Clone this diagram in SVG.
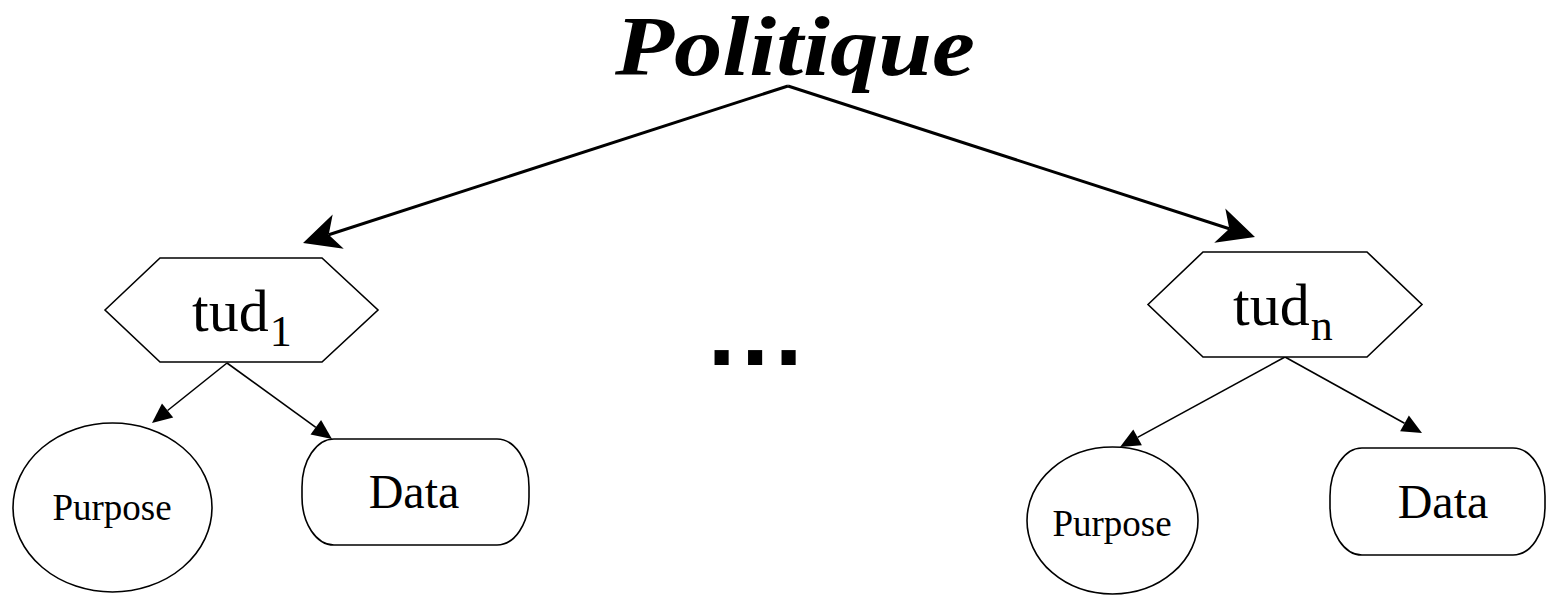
<svg xmlns="http://www.w3.org/2000/svg" width="1547" height="595" viewBox="0 0 1547 595">
  <style>
    .shape { fill: #ffffff; stroke: #000000; stroke-width: 1.6; }
    .lbl { font-family: "Liberation Serif", "Times New Roman", serif; fill: #000000; }
    .big { stroke: #000000; stroke-width: 3; fill: none; }
    .small { stroke: #000000; stroke-width: 1.6; fill: none; }
  </style>
  <defs>
    <marker id="bigHead" markerUnits="userSpaceOnUse" markerWidth="50" markerHeight="50" refX="0" refY="0" orient="auto" overflow="visible">
      <path d="M27,0 L-10,-18 L0,0 L-10,18 Z" fill="#000000"/>
    </marker>
    <marker id="smallHead" markerUnits="userSpaceOnUse" markerWidth="30" markerHeight="30" refX="0" refY="0" orient="auto" overflow="visible">
      <path d="M20,0 L0,-9 L0,9 Z" fill="#000000"/>
    </marker>
  </defs>
  <rect width="1547" height="595" fill="#ffffff"/>

  <g id="title">
    <text class="lbl" x="795" y="75" font-size="84" font-weight="bold" font-style="italic" text-anchor="middle" textLength="360" lengthAdjust="spacingAndGlyphs">Politique</text>
  </g>

  <g id="connectors">
    <line class="big" x1="788" y1="86" x2="328.7" y2="234.7" marker-end="url(#bigHead)"/>
    <line class="big" x1="788" y1="86" x2="1229.3" y2="228.7" marker-end="url(#bigHead)"/>
    <line class="small" x1="227" y1="363" x2="167.6" y2="410.5" marker-end="url(#smallHead)"/>
    <line class="small" x1="227" y1="363" x2="315.8" y2="427.3" marker-end="url(#smallHead)"/>
    <line class="small" x1="1285" y1="357" x2="1137.6" y2="437.4" marker-end="url(#smallHead)"/>
    <line class="small" x1="1285" y1="357" x2="1404.5" y2="423.3" marker-end="url(#smallHead)"/>
  </g>

  <g id="tud1">
    <polygon class="shape" points="105,310 160,258 322,258 378,310 322,362 160,362"/>
    <text class="lbl" x="192" y="331" font-size="60">tud<tspan font-size="44" dx="1" dy="15">1</tspan></text>
  </g>

  <g id="purpose1">
    <ellipse class="shape" cx="112.5" cy="507.5" rx="99.5" ry="84.5"/>
    <text class="lbl" x="112" y="520" font-size="37" text-anchor="middle">Purpose</text>
  </g>

  <g id="data1">
    <rect class="shape" x="302" y="439" width="227" height="106" rx="32" ry="48"/>
    <text class="lbl" x="414" y="508" font-size="48" text-anchor="middle">Data</text>
  </g>

  <g id="ellipsis">
    <text x="707.7" y="365" font-family="Liberation Sans, Arial, sans-serif" font-weight="bold" font-size="100" letter-spacing="5.7" fill="#000000">...</text>
  </g>

  <g id="tudn">
    <polygon class="shape" points="1148,304.5 1203,252 1367,252 1422,304.5 1367,357 1203,357"/>
    <text class="lbl" x="1233" y="325" font-size="60">tud<tspan font-size="44" dx="1" dy="15">n</tspan></text>
  </g>

  <g id="purposeN">
    <ellipse class="shape" cx="1112.5" cy="520.5" rx="85.5" ry="73.5"/>
    <text class="lbl" x="1112" y="536" font-size="37" text-anchor="middle">Purpose</text>
  </g>

  <g id="dataN">
    <rect class="shape" x="1330" y="448" width="215" height="107" rx="32" ry="48"/>
    <text class="lbl" x="1443" y="518" font-size="48" text-anchor="middle">Data</text>
  </g>
</svg>
